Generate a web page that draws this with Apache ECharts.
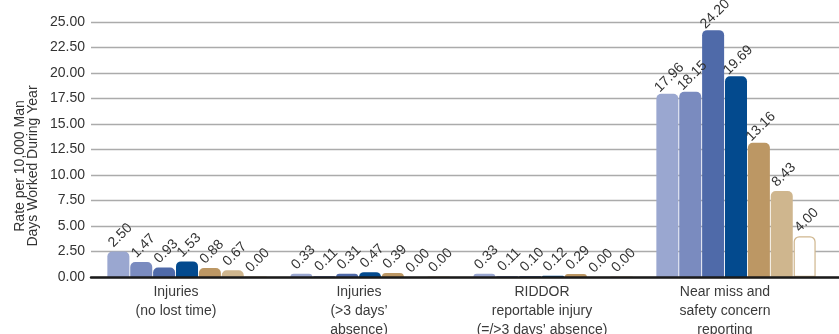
<!DOCTYPE html>
<html>
<head>
<meta charset="utf-8">
<script src="https://cdn.jsdelivr.net/npm/echarts@6/dist/echarts.min.js"></script>
<style>
  html, body { margin: 0; padding: 0; background: #fff; }
  #chart { width: 839px; height: 334px; }
</style>
</head>
<body>
<div id="chart"></div>
<script>
// Incident categories along the x axis
const categories = [
  'Injuries\n(no lost time)',
  'Injuries\n(>3 days’\nabsence)',
  'RIDDOR\nreportable injury\n(=/>3 days’ absence)',
  'Near miss and\nsafety concern\nreporting'
];

// One series per reporting period (rate per 10,000 man days)
const period1 = [2.50, 0.33, 0.33, 17.96];
const period2 = [1.47, 0.11, 0.11, 18.15];
const period3 = [0.93, 0.31, 0.10, 24.20];
const period4 = [1.53, 0.47, 0.12, 19.69];
const period5 = [0.88, 0.39, 0.29, 13.16];
const period6 = [0.67, 0.00, 0.00, 8.43];
const period7 = [0.00, 0.00, 0.00, 4.00];

const yMin = 0, yMax = 25, yStep = 2.5;
const yTitle = 'Rate per 10,000 Man\nDays Worked During Year';

const seriesData = [period1, period2, period3, period4, period5, period6, period7];
const fills   = ['#9aa7d0', '#7a8bbf', '#4f6aa9', '#034a8e', '#bc9764', '#cfb68e', '#ffffff'];
const borders = [null, null, null, null, null, null, '#cfb68e'];

const font = '"Liberation Sans", Arial, Helvetica, sans-serif';

const chart = echarts.init(document.getElementById('chart'));

const series = seriesData.map((d, i) => ({
  type: 'bar',
  xAxisIndex: 1,
  yAxisIndex: 1,
  data: d,
  barWidth: 22,
  barGap: '4%',
  itemStyle: {
    color: fills[i],
    borderColor: borders[i] || fills[i],
    borderWidth: borders[i] ? 1.2 : 0,
    borderRadius: [5, 5, 0, 0]
  },
  label: {
    show: true,
    position: 'top',
    distance: 14,
    rotate: 45,
    align: 'center',
    verticalAlign: 'middle',
    offset: [3, 0],
    formatter: p => p.value.toFixed(2),
    fontFamily: font,
    fontSize: 14,
    color: '#333'
  },
  z: 3
}));

chart.setOption({
  animation: false,
  backgroundColor: '#fff',
  grid: [
    // background grid: gridlines, value labels and the baseline across the full width
    { left: 91, right: 0, top: 22, bottom: 57, outerBoundsMode: 'none' },
    // bar grid
    { left: 95.5, width: 732, top: 22, bottom: 57, outerBoundsMode: 'none' }
  ],
  xAxis: [
    {
      gridIndex: 0, type: 'category', data: [''],
      axisLine: { show: true, lineStyle: { color: '#1a1a1a', width: 2.5 } },
      axisTick: { show: false }, axisLabel: { show: false }, z: 5
    },
    {
      gridIndex: 1, type: 'category', data: categories,
      axisLine: { show: false }, axisTick: { show: false },
      axisLabel: {
        interval: 0,
        margin: 6,
        fontFamily: font,
        fontSize: 14,
        lineHeight: 19,
        color: '#3a3a3a',
        padding: [0, 22, 0, 0]
      }
    }
  ],
  yAxis: [
    {
      gridIndex: 0, type: 'value', min: yMin, max: yMax, interval: yStep,
      axisLine: { show: false }, axisTick: { show: false },
      splitLine: { show: true, lineStyle: { color: '#ababab', width: 1.3 } },
      axisLabel: {
        margin: 6,
        formatter: v => v.toFixed(2),
        fontFamily: font,
        fontSize: 14,
        color: '#333'
      }
    },
    {
      gridIndex: 1, type: 'value', min: yMin, max: yMax, interval: yStep,
      show: false, splitLine: { show: false }
    }
  ],
  graphic: [
    {
      type: 'text',
      x: 27,
      y: 166,
      rotation: Math.PI / 2,
      style: {
        text: yTitle,
        align: 'center',
        verticalAlign: 'middle',
        fontFamily: font,
        fontSize: 14,
        lineHeight: 13,
        fill: '#333'
      }
    }
  ],
  series: series
});
</script>
</body>
</html>
